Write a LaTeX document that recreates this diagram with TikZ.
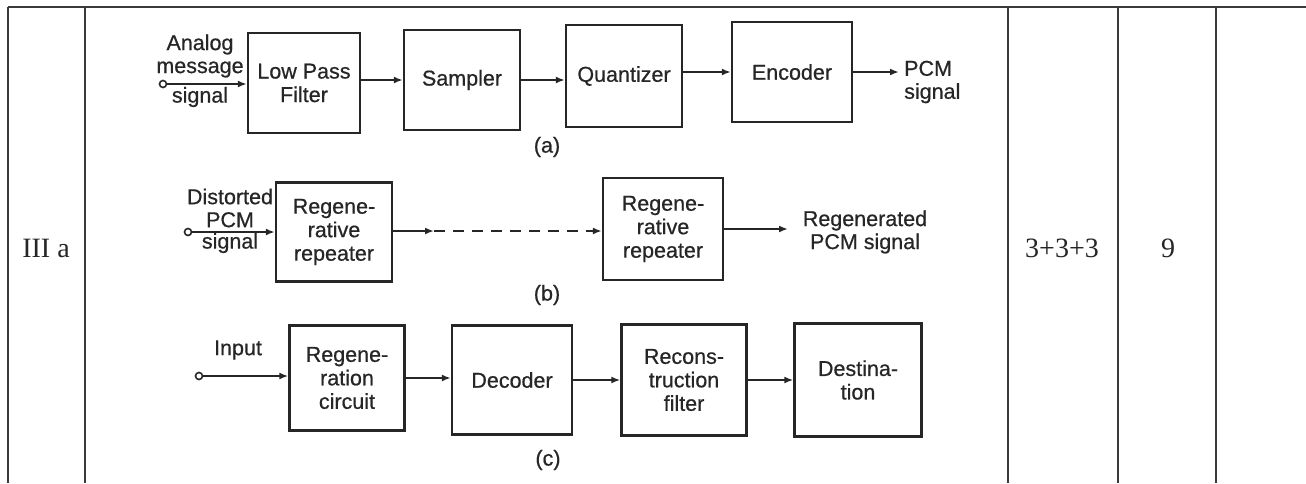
\documentclass[tikz,border=0pt]{standalone}
\usepackage{fontspec}
\setmainfont{Liberation Serif}
\newfontfamily\diagfont[FakeBold=0.6]{Liberation Sans}
\usetikzlibrary{arrows.meta}
\definecolor{ink}{HTML}{262626}
\definecolor{rulecol}{HTML}{3A3A3A}
\begin{document}
\begin{tikzpicture}[x=1pt,y=-1pt,
  block/.style={draw=ink, line width=2.4pt, inner sep=0pt, align=center,
    font=\diagfont\fontsize{21.5}{23.5}\selectfont, text=ink},
  lbl/.style={inner sep=0pt, align=center, text=ink,
    font=\diagfont\fontsize{21.5}{23}\selectfont},
  flow/.style={draw=ink, line width=2.2pt, -{Latex[length=9pt,width=7pt]}},
  port/.style={circle, draw=ink, line width=1.6pt, minimum size=7pt,
    inner sep=0pt, fill=white},
  rule/.style={draw=rulecol, line width=1.4pt},
  cell/.style={inner sep=0pt, text=ink, font=\fontsize{28}{30}\selectfont}
]
\useasboundingbox (0,0) rectangle (1306,483);
\fill[white] (0,0) rectangle (1306,483);

% table frame
\draw[rule] (8,7) -- (1306,7);
\foreach \cx in {8,85,1008,1118,1216} \draw[rule] (\cx,7) -- (\cx,483);
\node[cell] (qno) at (46,248) {III a};
\node[cell] (marks) at (1062,248) {3+3+3};
\node[cell] (total) at (1168,248) {9};

% (a) PCM transmitter
\node[port] (ina) at (163,84) {};
\node[lbl] (ina1) at (200,56) {Analog\\message};
\node[lbl] (ina2) at (200,97) {signal};
\node[block, minimum width=112pt, minimum height=100pt] (lpf) at (304,83) {Low Pass\\Filter};
\node[block, minimum width=116pt, minimum height=100pt] (smp) at (462,80) {Sampler};
\node[block, minimum width=116pt, minimum height=102pt] (qnt) at (624,76) {Quantizer};
\node[block, minimum width=120pt, minimum height=100pt] (enc) at (792,72) {Encoder};
\coordinate (outa) at (899,71);
\node[lbl, align=left, anchor=west] (pcm) at (904,82) {PCM\\signal};
\node[lbl] (capa) at (547,147) {(a)};
\draw[flow] (ina) -- (ina -| lpf.west);
\draw[flow] (lpf.east |- smp.west) -- (smp.west);
\draw[flow] (smp.east) -- (smp.east -| qnt.west);
\draw[flow] (qnt.east |- enc.west) -- (enc.west);
\draw[flow] (enc.east) -- (enc.east -| outa);

% (b) regenerative repeaters
\node[port] (inb) at (188,232) {};
\node[lbl] (inb1) at (230,208) {Distorted\\PCM};
\node[lbl] (inb2) at (230,243) {signal};
\node[block, minimum width=116pt, minimum height=99pt] (rr1) at (334,232) {Regene-\\rative\\repeater};
\node[block, minimum width=120pt, minimum height=102pt] (rr2) at (663,229) {Regene-\\rative\\repeater};
\coordinate (gap) at (434,231);
\coordinate (outb) at (788,228);
\node[lbl] (regen) at (865,232) {Regenerated\\PCM signal};
\node[lbl] (capb) at (547,295) {(b)};
\draw[flow] (inb) -- (inb -| rr1.west);
\draw[flow] (rr1.east |- gap) -- (gap);
\draw[flow, dash pattern=on 11pt off 8pt] (gap) -- (gap -| rr2.west);
\draw[flow] (rr2.east) -- (rr2.east -| outb);

% (c) PCM receiver
\node[port] (inc) at (199,376) {};
\node[lbl] (inc1) at (238,350) {Input};
\node[block, minimum width=115pt, minimum height=105pt] (rgc) at (347,378) {Regene-\\ration\\circuit};
\node[block, minimum width=120pt, minimum height=109pt] (dec) at (512,380) {Decoder};
\node[block, minimum width=125pt, minimum height=111pt] (rec) at (684,380) {Recons-\\truction\\filter};
\node[block, minimum width=127pt, minimum height=113pt] (dst) at (858,380) {Destina-\\tion};
\node[lbl] (capc) at (548,460) {(c)};
\draw[flow] (inc) -- (inc -| rgc.west);
\draw[flow] (rgc.east) -- (rgc.east -| dec.west);
\draw[flow] (dec.east) -- (dec.east -| rec.west);
\draw[flow] (rec.east) -- (rec.east -| dst.west);
\end{tikzpicture}
\end{document}
